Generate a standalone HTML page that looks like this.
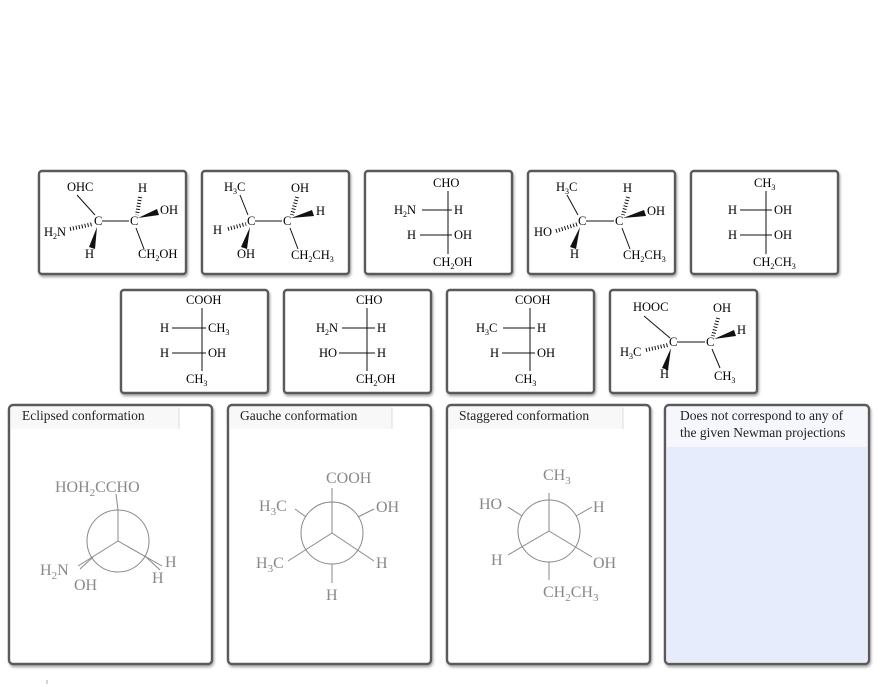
<!DOCTYPE html>
<html><head><meta charset="utf-8"><style>
html,body{margin:0;padding:0;background:#fff;width:887px;height:687px;overflow:hidden}
svg{display:block}
.t{font-family:"Liberation Serif",serif;font-size:12.5px;fill:#000}
.g{font-family:"Liberation Serif",serif;font-size:16px;fill:#888}
.h{font-family:"Liberation Serif",serif;font-size:13.5px;fill:#222}
.s{font-size:8px}
.gs{font-size:11px}
</style></head><body>
<svg width="887" height="687" viewBox="0 0 887 687" xmlns="http://www.w3.org/2000/svg">
<defs>
<filter id="sh" x="-5%" y="-5%" width="110%" height="115%"><feDropShadow dx="1" dy="2" stdDeviation="1.2" flood-color="#000" flood-opacity="0.35"/></filter>
</defs>
<g fill="#fff" stroke="#5a5a5a" stroke-width="2.4" filter="url(#sh)">
<rect x="39" y="171" width="147" height="103" rx="3"/>
<rect x="202" y="171" width="147" height="103" rx="3"/>
<rect x="365" y="171" width="147" height="103" rx="3"/>
<rect x="528" y="171" width="147" height="103" rx="3"/>
<rect x="691" y="171" width="147" height="103" rx="3"/>
<rect x="121" y="290" width="147" height="103" rx="3"/>
<rect x="284" y="290" width="147" height="103" rx="3"/>
<rect x="447" y="290" width="147" height="103" rx="3"/>
<rect x="610" y="290" width="147" height="103" rx="3"/>
<rect x="9" y="405" width="203" height="259" rx="4"/>
<rect x="228" y="405" width="203" height="259" rx="4"/>
<rect x="447" y="405" width="203" height="259" rx="4"/>
<rect x="665" y="405" width="204" height="259" rx="4"/>
</g>
<rect x="667" y="447" width="200" height="215" fill="#e6ecfb"/>
<rect x="667" y="407" width="200" height="40" fill="#f5f7fd"/>
<g fill="#f8f8f8"><rect x="11" y="407" width="168" height="22"/><rect x="230" y="407" width="162" height="22"/><rect x="449" y="407" width="174" height="22"/></g>
<g stroke="#ddd"><line x1="179" y1="408" x2="179" y2="429"/><line x1="392" y1="408" x2="392" y2="429"/><line x1="623" y1="408" x2="623" y2="429"/></g>
<line x1="47" y1="680" x2="47" y2="684" stroke="#aaa"/>
<text class="h" x="22" y="420">Eclipsed conformation</text>
<text class="h" x="240" y="420">Gauche conformation</text>
<text class="h" x="459" y="420">Staggered conformation</text>
<text class="h" x="680" y="420">Does not correspond to any of</text>
<text class="h" x="680" y="437">the given Newman projections</text>

<g stroke="#111" stroke-width="1">
<line x1="77" y1="195" x2="95" y2="215"/><line x1="102" y1="221" x2="129" y2="221"/><line x1="136" y1="228" x2="144" y2="249"/>
<line x1="240" y1="195" x2="248" y2="215"/><line x1="255" y1="221" x2="282" y2="221"/><line x1="290" y1="228" x2="298" y2="249"/>
<line x1="567" y1="195" x2="578" y2="215"/><line x1="586" y1="221" x2="614" y2="221"/><line x1="622" y1="228" x2="630" y2="249"/>
<line x1="644" y1="316" x2="670" y2="338"/><line x1="677" y1="342" x2="705" y2="342"/><line x1="712" y1="349" x2="720" y2="368"/>
</g>
<g stroke="#111" stroke-width="4" stroke-dasharray="1 2">
<line x1="70" y1="229" x2="93" y2="224"/><line x1="140" y1="197" x2="137" y2="215"/>
<line x1="228" y1="229" x2="246" y2="224"/><line x1="297" y1="197" x2="292" y2="215"/>
<line x1="556" y1="231" x2="578" y2="224"/><line x1="628" y1="197" x2="623" y2="215"/>
<line x1="646" y1="350" x2="668" y2="345"/><line x1="718" y1="318" x2="713" y2="336"/>
</g>
<g fill="#111">
<polygon points="97,227 89,247 95,249"/><polygon points="138,218 157,209 159,215"/>
<polygon points="250,227 241,247 247,249"/><polygon points="291,218 312,210 314,216"/>
<polygon points="580,227 570,247 576,249"/><polygon points="623,218 644,210 646,216"/>
<polygon points="671,348 662,368 668,370"/><polygon points="714,339 734,330 736,336"/>
</g>
<g class="t">
<text x="67" y="191">OHC</text><text x="138" y="192">H</text><text x="160" y="214">OH</text>
<text x="44" y="236">H<tspan class="s" dy="3">2</tspan><tspan dy="-3">N</tspan></text><text x="94" y="225">C</text><text x="130" y="225">C</text>
<text x="85" y="258">H</text><text x="138" y="258">CH<tspan class="s" dy="3">2</tspan><tspan dy="-3">OH</tspan></text>

<text x="224" y="191">H<tspan class="s" dy="3">3</tspan><tspan dy="-3">C</tspan></text><text x="291" y="192">OH</text><text x="316" y="215">H</text>
<text x="213" y="234">H</text><text x="247" y="225">C</text><text x="283" y="225">C</text>
<text x="237" y="258">OH</text><text x="291" y="259">CH<tspan class="s" dy="3">2</tspan><tspan dy="-3">CH</tspan><tspan class="s" dy="3">3</tspan></text>

<text x="433" y="187">CHO</text><text x="394" y="214">H<tspan class="s" dy="3">2</tspan><tspan dy="-3">N</tspan></text><text x="454" y="214">H</text>
<text x="407" y="239">H</text><text x="454" y="239">OH</text><text x="433" y="266">CH<tspan class="s" dy="3">2</tspan><tspan dy="-3">OH</tspan></text>

<text x="556" y="191">H<tspan class="s" dy="3">3</tspan><tspan dy="-3">C</tspan></text><text x="623" y="192">H</text><text x="647" y="215">OH</text>
<text x="534" y="236">HO</text><text x="578" y="225">C</text><text x="615" y="225">C</text>
<text x="570" y="258">H</text><text x="623" y="259">CH<tspan class="s" dy="3">2</tspan><tspan dy="-3">CH</tspan><tspan class="s" dy="3">3</tspan></text>

<text x="754" y="187">CH<tspan class="s" dy="3">3</tspan></text><text x="728" y="214">H</text><text x="774" y="214">OH</text>
<text x="728" y="239">H</text><text x="774" y="239">OH</text><text x="753" y="266">CH<tspan class="s" dy="3">2</tspan><tspan dy="-3">CH</tspan><tspan class="s" dy="3">3</tspan></text>

<text x="186" y="304">COOH</text><text x="160" y="332">H</text><text x="208" y="332">CH<tspan class="s" dy="3">3</tspan></text>
<text x="160" y="357">H</text><text x="208" y="357">OH</text><text x="186" y="383">CH<tspan class="s" dy="3">3</tspan></text>

<text x="356" y="304">CHO</text><text x="316" y="332">H<tspan class="s" dy="3">2</tspan><tspan dy="-3">N</tspan></text><text x="377" y="332">H</text>
<text x="319" y="357">HO</text><text x="377" y="357">H</text><text x="356" y="383">CH<tspan class="s" dy="3">2</tspan><tspan dy="-3">OH</tspan></text>

<text x="515" y="304">COOH</text><text x="476" y="332">H<tspan class="s" dy="3">3</tspan><tspan dy="-3">C</tspan></text><text x="537" y="332">H</text>
<text x="490" y="357">H</text><text x="537" y="357">OH</text><text x="515" y="383">CH<tspan class="s" dy="3">3</tspan></text>

<text x="633" y="311">HOOC</text><text x="713" y="312">OH</text><text x="737" y="334">H</text>
<text x="620" y="356">H<tspan class="s" dy="3">3</tspan><tspan dy="-3">C</tspan></text><text x="669" y="346">C</text><text x="706" y="346">C</text>
<text x="660" y="378">H</text><text x="714" y="380">CH<tspan class="s" dy="3">3</tspan></text>
</g>
<g stroke="#111" stroke-width="1">
<line x1="448" y1="191" x2="448" y2="254"/><line x1="422" y1="210" x2="452" y2="210"/><line x1="420" y1="235" x2="452" y2="235"/>
<line x1="766" y1="191" x2="766" y2="254"/><line x1="740" y1="210" x2="772" y2="210"/><line x1="740" y1="235" x2="772" y2="235"/>
<line x1="202" y1="308" x2="202" y2="371"/><line x1="172" y1="328" x2="206" y2="328"/><line x1="172" y1="353" x2="206" y2="353"/>
<line x1="367" y1="308" x2="367" y2="371"/><line x1="342" y1="328" x2="375" y2="328"/><line x1="339" y1="353" x2="375" y2="353"/>
<line x1="530" y1="308" x2="530" y2="371"/><line x1="503" y1="328" x2="535" y2="328"/><line x1="502" y1="353" x2="535" y2="353"/>
</g>

<g fill="none" stroke="#888" stroke-width="1">
<circle cx="118" cy="541" r="31"/>
<line x1="118" y1="541" x2="118" y2="510"/><line x1="118" y1="510" x2="116" y2="494"/>
<line x1="118" y1="541" x2="78" y2="566"/><line x1="93" y1="557" x2="80" y2="569"/>
<line x1="118" y1="541" x2="162" y2="566"/><line x1="145" y1="556" x2="160" y2="570"/>
<circle cx="332" cy="533" r="31"/>
<line x1="332" y1="533" x2="332" y2="502"/><line x1="332" y1="502" x2="332" y2="488"/>
<line x1="306" y1="517" x2="295" y2="509"/><line x1="358" y1="517" x2="374" y2="509"/>
<line x1="332" y1="533" x2="288" y2="561"/><line x1="332" y1="533" x2="374" y2="561"/>
<line x1="332" y1="564" x2="332" y2="583"/>
<circle cx="549" cy="531" r="31"/>
<line x1="549" y1="531" x2="549" y2="493"/>
<line x1="522" y1="516" x2="508" y2="507"/><line x1="576" y1="516" x2="592" y2="507"/>
<line x1="549" y1="531" x2="508" y2="555"/><line x1="549" y1="531" x2="592" y2="557"/>
<line x1="549" y1="562" x2="549" y2="580"/>
</g>
<g class="g">
<text x="55" y="492">HOH<tspan class="gs" dy="4">2</tspan><tspan dy="-4">CCHO</tspan></text>
<text x="40" y="575">H<tspan class="gs" dy="4">2</tspan><tspan dy="-4">N</tspan></text><text x="74" y="590">OH</text>
<text x="165" y="567">H</text><text x="152" y="583">H</text>
<text x="326" y="483">COOH</text><text x="259" y="511">H<tspan class="gs" dy="4">3</tspan><tspan dy="-4">C</tspan></text><text x="376" y="512">OH</text>
<text x="256" y="568">H<tspan class="gs" dy="4">3</tspan><tspan dy="-4">C</tspan></text><text x="376" y="568">H</text><text x="326" y="600">H</text>
<text x="543" y="480">CH<tspan class="gs" dy="4">3</tspan></text><text x="479" y="509">HO</text><text x="593" y="512">H</text>
<text x="491" y="565">H</text><text x="593" y="568">OH</text>
<text x="543" y="597">CH<tspan class="gs" dy="4">2</tspan><tspan dy="-4">CH</tspan><tspan class="gs" dy="4">3</tspan></text>
</g>
</svg>
</body></html>
